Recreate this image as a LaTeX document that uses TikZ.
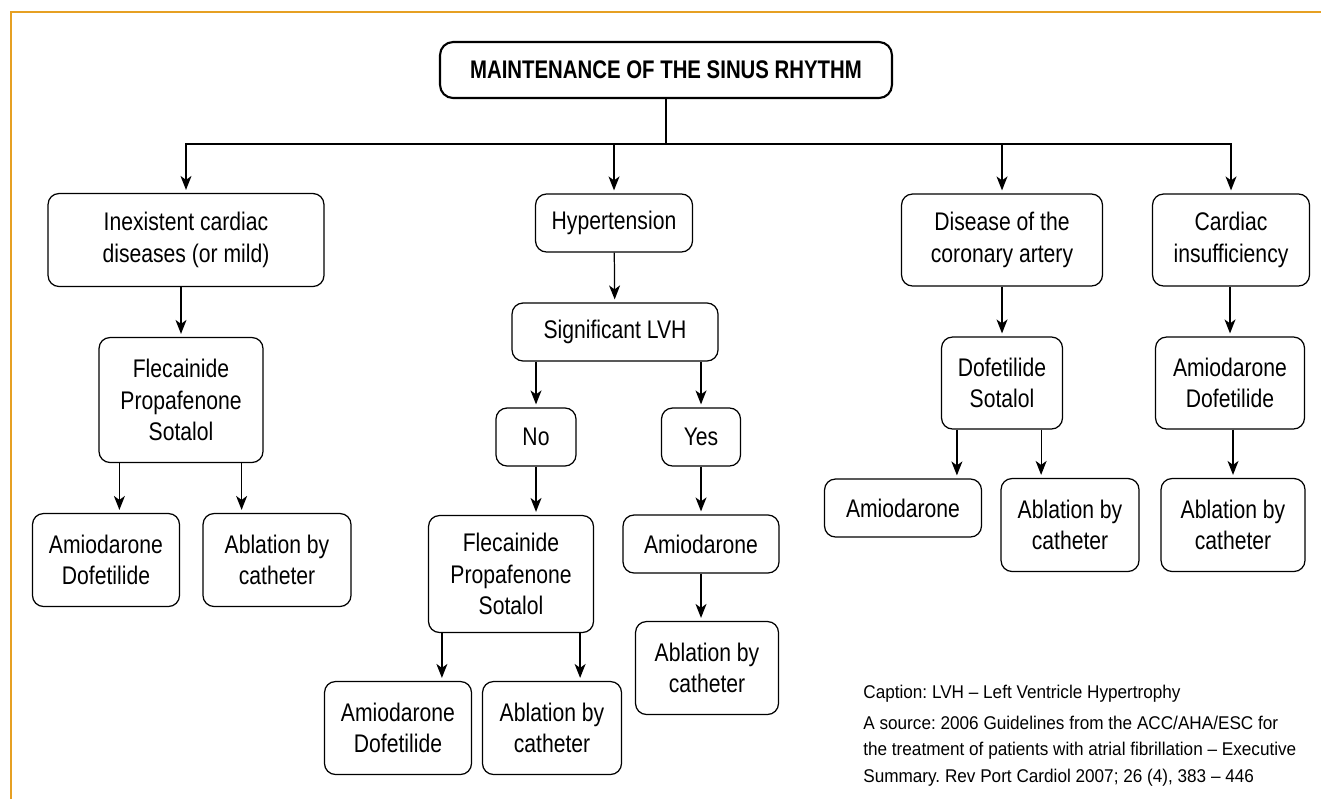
\documentclass[tikz,border=0pt]{standalone}
\usepackage{fontspec}
\setmainfont{Liberation Sans}[FakeStretch=0.83]
\newfontfamily\headfont{Liberation Sans}[FakeStretch=0.80]
\newfontfamily\capfont{Liberation Sans}[FakeStretch=0.93]
\usepackage{xcolor}
\usetikzlibrary{
  arrows.meta,
  positioning,
  calc
}
\definecolor{frameorange}{RGB}{230,160,35}
\frenchspacing

\begin{document}
\begin{tikzpicture}[
  x=0.02cm, y=-0.02cm,
  box/.style={rectangle, draw, line width=0.7pt, rounded corners=0.22cm, align=center, inner sep=0pt, font=\fontsize{14.5pt}{18pt}\selectfont},
  headbox/.style={box, line width=1.2pt, rounded corners=0.26cm, font=\headfont\fontsize{14.5pt}{18pt}\selectfont\bfseries},
  pipe/.style={draw, line width=0.7pt, shorten >=0.06cm, -{Stealth[length=0.28cm, width=0.22cm, inset=0.08cm]}},
  link/.style={draw, line width=0.7pt},
  note/.style={inner sep=0pt, align=left, anchor=north west, font=\capfont\fontsize{10.5pt}{14.9pt}\selectfont},
]
\useasboundingbox (0,0) rectangle (1321,799);
\draw[frameorange, line width=1.2pt] (11,799) -- (11,12) -- (1321,12);

% top
\node[headbox, minimum width=9.04cm, minimum height=1.12cm] (title) at (666,70) {MAINTENANCE OF THE SINUS RHYTHM};
\coordinate (bus) at (666,144);

% first row
\node[box, minimum width=5.52cm, minimum height=1.86cm] (inex) at (186,240) {Inexistent cardiac\\diseases (or mild)};
\node[box, minimum width=3.14cm, minimum height=1.16cm] (hyper) at (614,223) {Hypertension};
\node[box, minimum width=4.02cm, minimum height=1.84cm] (coron) at (1002,240) {Disease of the\\coronary artery};
\node[box, minimum width=3.14cm, minimum height=1.84cm] (insuf) at (1231,240) {Cardiac\\insufficiency};

% second row
\node[box, minimum width=3.28cm, minimum height=2.5cm] (fleL) at (181,400) {Flecainide\\Propafenone\\Sotalol};
\node[box, minimum width=4.12cm, minimum height=1.16cm] (lvh) at (615,332) {Significant LVH};
\node[box, minimum width=2.42cm, minimum height=1.84cm] (dofsot) at (1002,383) {Dofetilide\\Sotalol};
\node[box, minimum width=2.98cm, minimum height=1.84cm] (amidofR) at (1230,383) {Amiodarone\\Dofetilide};

% left branch
\node[box, minimum width=2.94cm, minimum height=1.86cm] (amidofL) at (106,560) {Amiodarone\\Dofetilide};
\node[box, minimum width=2.96cm, minimum height=1.86cm] (ablL) at (277,560) {Ablation by\\catheter};

% hypertension branch
\node[box, minimum width=1.6cm, minimum height=1.16cm] (no) at (536,437) {No};
\node[box, minimum width=1.58cm, minimum height=1.16cm] (yes) at (701,437) {Yes};
\node[box, minimum width=3.3cm, minimum height=2.34cm] (fleM) at (511,574) {Flecainide\\Propafenone\\Sotalol};
\node[box, minimum width=3.12cm, minimum height=1.16cm] (amiY) at (701,544) {Amiodarone};
\node[box, minimum width=2.86cm, minimum height=1.86cm] (ablY) at (707,668) {Ablation by\\catheter};
\node[box, minimum width=2.94cm, minimum height=1.86cm] (amidofM) at (398,728) {Amiodarone\\Dofetilide};
\node[box, minimum width=2.78cm, minimum height=1.86cm] (ablM) at (552,728) {Ablation by\\catheter};

% coronary and insufficiency branches
\node[box, minimum width=3.14cm, minimum height=1.16cm] (amiR) at (903,508) {Amiodarone};
\node[box, minimum width=2.76cm, minimum height=1.86cm] (ablR) at (1070,525) {Ablation by\\catheter};
\node[box, minimum width=2.88cm, minimum height=1.86cm] (ablI) at (1233,525) {Ablation by\\catheter};

% tap points under the wide boxes
\coordinate (fleLa) at ([xshift=0.42cm]fleL.south west);
\coordinate (fleLb) at ([xshift=-0.44cm]fleL.south east);
\coordinate (dofsota) at ([xshift=0.32cm]dofsot.south west);
\coordinate (dofsotb) at ([xshift=-0.44cm]dofsot.south east);
\coordinate (fleMa) at ([xshift=0.28cm]fleM.south west);
\coordinate (fleMb) at ([xshift=-0.28cm]fleM.south east);

\draw[link] (title) -- (bus);
\draw[pipe] (bus) -| (inex);
\draw[pipe] (bus) -| (hyper);
\draw[pipe] (bus) -| (coron);
\draw[pipe] (bus) -| (insuf);

\draw[pipe] (inex.south -| fleL) -- (fleL);
\draw[pipe] (hyper) -- (lvh);
\draw[pipe] (coron) -- (dofsot);
\draw[pipe] (insuf.south -| amidofR) -- (amidofR);

\draw[pipe] (fleLa) -- (fleLa |- amidofL.north);
\draw[pipe] (fleLb) -- (fleLb |- ablL.north);

\draw[pipe] (lvh.south -| no) -- (no);
\draw[pipe] (lvh.south -| yes) -- (yes);
\draw[pipe] (no.south) -- (no |- fleM.north);
\draw[pipe] (yes) -- (amiY);
\draw[pipe] (amiY.south) -- (amiY |- ablY.north);
\draw[pipe] (fleMa) -- (fleMa |- amidofM.north);
\draw[pipe] (fleMb) -- (fleMb |- ablM.north);

\draw[pipe] (dofsota) -- (dofsota |- amiR.north);
\draw[pipe] (dofsotb) -- (dofsotb |- ablR.north);
\draw[pipe] (amidofR.south -| ablI) -- (ablI);

% caption
\node[note] (caption) at (863,685) {Caption: LVH – Left Ventricle Hypertrophy};
\node[note] (source) at (863,716) {A source: 2006 Guidelines from the ACC/AHA/ESC for\\the treatment of patients with atrial fibrillation – Executive\\Summary. Rev Port Cardiol 2007; 26 (4), 383 – 446};
\end{tikzpicture}
\end{document}
